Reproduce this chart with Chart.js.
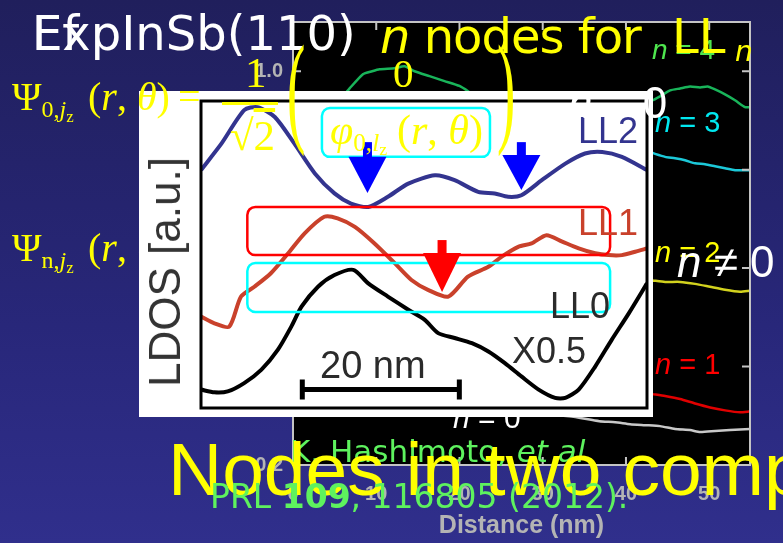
<!DOCTYPE html>
<html>
<head>
<meta charset="utf-8">
<script src="https://cdn.jsdelivr.net/npm/chart.js@4.4.1/dist/chart.umd.min.js"></script>
<style>
  html, body { margin: 0; padding: 0; }
  #slide { position: relative; width: 783px; height: 543px; overflow: hidden;
           background: linear-gradient(180deg, #201f5c 0%, #28277a 60%, #302f8c 100%); }
  #bg { position: absolute; left: 0; top: 0; z-index: 1; }
  #panel { position: absolute; left: 139px; top: 91px; z-index: 3; background: #fff; }
  .t { position: absolute; white-space: nowrap; line-height: 1; }
  .sans { font-family: "Liberation Sans", Arial, sans-serif; }
  .comic { font-family: "Comic Sans MS", "DejaVu Sans", sans-serif; }
  .serif { font-family: "Liberation Serif", "DejaVu Serif", serif; }
  .sub { font-size: 0.6em; position: relative; top: 0.3em; }
  .sub2 { font-size: 0.7em; position: relative; top: 0.25em; }
</style>
</head>
<body>
<div id="slide">
  <canvas id="bg" width="783" height="543"></canvas>
  <canvas id="panel" width="514" height="326"></canvas>
</div>
<script>
// inset: LDOS line profiles, distance (nm) vs LDOS (a.u.)
const ll2Dist = [0, 2.6, 5.5, 7.2, 9.4, 11.9, 14.5, 17.0, 19.1, 21.3, 23.8, 26.4, 29.8, 32.3, 35.3, 37.4, 39.1, 40.8, 43.4, 46.4, 48.9, 51.1, 53.6, 56.8];
const ll2Ldos = [77.5, 86.1, 97.0, 98.0, 94.8, 86.1, 76.4, 69.9, 66.6, 65.5, 68.8, 73.1, 75.8, 74.2, 70.4, 69.9, 68.8, 69.3, 74.2, 79.6, 82.9, 83.4, 81.8, 77.5];
const ll1Dist = [0, 1.7, 3.6, 5.1, 6.8, 8.9, 11.1, 13.2, 15.7, 17.4, 19.6, 22.1, 24.7, 26.8, 28.9, 31.5, 34.0, 36.6, 38.3, 40.4, 42.1, 44.0, 46.0, 48.1, 50.2, 51.9, 53.6, 55.3, 56.8];
const ll1Ldos = [29.8, 27.6, 26.5, 36.3, 39.5, 43.9, 50.4, 56.9, 62.3, 61.8, 59.0, 53.6, 47.1, 41.7, 38.5, 36.3, 42.8, 46.0, 49.3, 52.5, 53.6, 56.3, 54.2, 52.0, 50.4, 49.8, 49.8, 50.9, 52.0];
const ll0Dist = [0, 1.7, 3.4, 5.5, 7.7, 9.8, 11.5, 12.8, 14.9, 17.0, 19.4, 21.3, 23.8, 26.4, 28.5, 30.2, 32.3, 34.5, 36.6, 38.7, 40.8, 43.0, 45.1, 46.4, 48.1, 50.2, 52.3, 54.5, 56.8];
const ll0Ldos = [6.0, 5.1, 5.4, 8.1, 12.5, 19.0, 26.5, 33.0, 39.5, 43.3, 45.0, 40.6, 36.3, 32.0, 28.7, 24.4, 22.8, 21.1, 18.4, 14.6, 10.3, 6.0, 3.3, 3.3, 6.0, 13.5, 22.2, 30.9, 40.6];

// background panel: offset spectra for n = 4 .. 0
const n4Dist = [0, 3.2, 5.6, 6.8, 8.4, 9.5, 10.4, 12.2, 13.4, 14.6, 16.4, 18.2, 20.0, 21.8, 23.0, 27.2, 32.0, 36.8, 40.5, 43.2, 44.1, 45.3, 46.5, 47.7, 48.9, 49.8, 50.7, 51.9, 53.1, 54.3, 54.9];
const n4Val  = [0.862, 0.902, 0.941, 0.965, 0.994, 1.000, 1.004, 1.006, 1.010, 1.000, 0.990, 0.980, 0.970, 0.951, 0.941, 0.921, 0.911, 0.921, 0.931, 0.941, 0.949, 0.961, 0.965, 0.969, 0.967, 0.969, 0.963, 0.953, 0.941, 0.927, 0.927];
const n3Dist = [43.2, 43.5, 44.7, 45.9, 47.1, 48.3, 49.5, 50.7, 51.9, 53.1, 54.9];
const n3Val  = [0.834, 0.832, 0.826, 0.823, 0.819, 0.813, 0.811, 0.807, 0.803, 0.799, 0.799];
const n2Dist = [43.2, 44.7, 46.5, 48.3, 50.1, 51.9, 53.7, 54.9];
const n2Val  = [0.575, 0.572, 0.572, 0.568, 0.562, 0.556, 0.552, 0.554];
const n1Dist = [43.2, 44.7, 46.5, 48.3, 50.1, 51.9, 53.7, 54.9];
const n1Val  = [0.344, 0.340, 0.334, 0.325, 0.317, 0.311, 0.307, 0.309];
const n0Dist = [0, 12.8, 24.8, 33.2, 36.8, 38.7, 40.5, 42.3, 44.1, 45.9, 47.7, 48.9, 50.7, 52.5, 54.9];
const n0Val  = [0.328, 0.319, 0.309, 0.299, 0.289, 0.287, 0.283, 0.281, 0.279, 0.273, 0.271, 0.267, 0.269, 0.271, 0.273];

const bgXTicks = [0, 10, 20, 30, 40, 50];
const bgYTicks = [0.2, 0.4, 0.6, 0.8, 1.0];

// annotations in the inset (data units)
const boxes = [
  { x0: 5.9, x1: 52.1, y0: 49.8, y1: 65.5, color: '#ff0000' },
  { x0: 5.9, x1: 52.1, y0: 31.3, y1: 47.2, color: '#00ffff' },
  { x0: 15.4, x1: 36.8, y0: 81.8, y1: 97.7, color: '#00ffff' }
];
const arrows = [
  { x: 21.2, top: 86.6, head: 81.8, tip: 70.0, color: '#0000ff' },
  { x: 40.8, top: 86.6, head: 82.4, tip: 71.0, color: '#0000ff' },
  { x: 30.7, top: 54.7, head: 50.5, tip: 37.8, color: '#ff0000' }
];
const scaleBarStart = 12.9, scaleBarLength = 20, scaleBarLevel = 6.0;

function pts(xs, ys) { return xs.map((v, i) => ({ x: v, y: ys[i] })); }

const blackPanel = {
  id: 'blackPanel',
  beforeDatasetsDraw(chart) {
    const { ctx, chartArea: a } = chart;
    ctx.save();
    ctx.fillStyle = '#000';
    ctx.fillRect(a.left, a.top, a.width, a.height);
    ctx.restore();
  },
  afterDatasetsDraw(chart) {
    const { ctx, chartArea: a, scales: { x, y } } = chart;
    ctx.save();
    ctx.strokeStyle = '#c4c4c4';
    ctx.lineWidth = 2;
    ctx.strokeRect(a.left, a.top, a.width, a.height);
    ctx.beginPath();
    x.ticks.forEach(t => {
      const p = x.getPixelForValue(t.value);
      ctx.moveTo(p, a.top); ctx.lineTo(p, a.top + 8);
      ctx.moveTo(p, a.bottom); ctx.lineTo(p, a.bottom - 8);
    });
    y.ticks.forEach(t => {
      const p = y.getPixelForValue(t.value);
      ctx.moveTo(a.left, p); ctx.lineTo(a.left + 8, p);
      ctx.moveTo(a.right, p); ctx.lineTo(a.right - 8, p);
    });
    ctx.stroke();
    ctx.restore();
  }
};

const bgFont = { family: 'Liberation Sans', size: 20, weight: 'bold' };
new Chart(document.getElementById('bg'), {
  type: 'line',
  data: {
    datasets: [
      { label: 'n = 4', data: pts(n4Dist, n4Val), borderColor: '#19b45a' },
      { label: 'n = 3', data: pts(n3Dist, n3Val), borderColor: '#1cc8d8' },
      { label: 'n = 2', data: pts(n2Dist, n2Val), borderColor: '#d2d21e' },
      { label: 'n = 1', data: pts(n1Dist, n1Val), borderColor: '#e00000' },
      { label: 'n = 0', data: pts(n0Dist, n0Val), borderColor: '#c8c8c8' }
    ].map(d => Object.assign(d, { borderWidth: 2.5, pointRadius: 0, tension: 0.2, fill: false }))
  },
  options: {
    responsive: false, animation: false, events: [],
    layout: { padding: { left: 0, right: 33, top: 10, bottom: 0 } },
    plugins: { legend: { display: false }, tooltip: { enabled: false } },
    scales: {
      x: {
        type: 'linear', min: 0, max: 54.9,
        afterFit: s => { s.height = 78; },
        afterBuildTicks: s => { s.ticks = bgXTicks.map(v => ({ value: v })); },
        grid: { display: false, drawTicks: false }, border: { display: false },
        ticks: { padding: 17, color: '#b4b4b4', font: bgFont, maxRotation: 0, autoSkip: false },
        title: { display: true, text: 'Distance (nm)', color: '#b4b4b4',
                 font: { family: 'Liberation Sans', size: 25, weight: 'bold' }, padding: { top: 0, bottom: 2 } }
      },
      y: {
        type: 'linear', min: 0.2, max: 1.1,
        afterFit: s => { s.width = 293; },
        afterBuildTicks: s => { s.ticks = bgYTicks.map(v => ({ value: v })); },
        grid: { display: false, drawTicks: false }, border: { display: false },
        ticks: { padding: 10, color: '#b4b4b4', font: bgFont, callback: v => v.toFixed(1) }
      }
    }
  },
  plugins: [blackPanel]
});

const insetMarks = {
  id: 'insetMarks',
  afterDatasetsDraw(chart) {
    const { ctx, chartArea: a, scales: { x, y } } = chart;
    ctx.save();
    ctx.lineWidth = 2.5;
    boxes.forEach(b => {
      const l = x.getPixelForValue(b.x0), r = x.getPixelForValue(b.x1);
      const t = y.getPixelForValue(b.y1), bt = y.getPixelForValue(b.y0);
      ctx.strokeStyle = b.color;
      ctx.beginPath();
      ctx.roundRect(l, t, r - l, bt - t, 8);
      ctx.stroke();
    });
    arrows.forEach(ar => {
      const p = x.getPixelForValue(ar.x);
      const yt = y.getPixelForValue(ar.top), yh = y.getPixelForValue(ar.head), yp = y.getPixelForValue(ar.tip);
      ctx.fillStyle = ar.color;
      ctx.fillRect(p - 4.5, yt, 9, yh - yt + 1);
      ctx.beginPath();
      ctx.moveTo(p - 19, yh); ctx.lineTo(p + 19, yh); ctx.lineTo(p, yp);
      ctx.closePath();
      ctx.fill();
    });
    // scale bar
    const s0 = x.getPixelForValue(scaleBarStart), s1 = x.getPixelForValue(scaleBarStart + scaleBarLength);
    const sy = y.getPixelForValue(scaleBarLevel);
    ctx.strokeStyle = '#000';
    ctx.lineWidth = 5;
    ctx.beginPath();
    ctx.moveTo(s0, sy); ctx.lineTo(s1, sy);
    ctx.moveTo(s0, sy - 10); ctx.lineTo(s0, sy + 10);
    ctx.moveTo(s1, sy - 10); ctx.lineTo(s1, sy + 10);
    ctx.stroke();
    // frame
    ctx.lineWidth = 3;
    ctx.strokeRect(a.left, a.top, a.width, a.height);
    ctx.restore();
  }
};

new Chart(document.getElementById('panel'), {
  type: 'line',
  data: {
    datasets: [
      { label: 'LL2', data: pts(ll2Dist, ll2Ldos), borderColor: '#33348f' },
      { label: 'LL1', data: pts(ll1Dist, ll1Ldos), borderColor: '#c9412b' },
      { label: 'LL0', data: pts(ll0Dist, ll0Ldos), borderColor: '#000000' }
    ].map(d => Object.assign(d, { borderWidth: 4, pointRadius: 0, tension: 0.25, fill: false }))
  },
  options: {
    responsive: false, animation: false, events: [],
    layout: { padding: { left: 62, right: 6, top: 10, bottom: 9 } },
    plugins: { legend: { display: false }, tooltip: { enabled: false } },
    scales: {
      x: { type: 'linear', min: 0, max: 56.8, display: false },
      y: { type: 'linear', min: 0, max: 100, display: false }
    }
  },
  plugins: [insetMarks]
});

// text layers
const slide = document.getElementById('slide');
function label(html, x, base, size, color, cls, z, extra) {
  const d = document.createElement('div');
  d.className = 't ' + cls;
  d.innerHTML = html;
  d.style.left = x + 'px';
  d.style.top = (base - 0.845 * size) + 'px';
  d.style.fontSize = size + 'px';
  d.style.color = color;
  d.style.zIndex = z;
  if (extra) Object.assign(d.style, extra);
  slide.appendChild(d);
  return d;
}
const Y = '#ffff00';

// behind the inset
label('Ψ<span class="sub">n,<i>j</i><span class="sub2">z</span></span>', 12, 262, 40, Y, 'serif', 2);
label('(<i>r</i>, <i>θ</i>', 88, 262, 40, Y, 'serif', 2);
label('<i>n</i> = 0', 453, 428, 30, '#fff', 'sans', 2);
label('<i>n</i> = 3', 655, 133, 29, '#00e8f0', 'sans', 2);
label('<i>n</i> = 1', 655, 375, 29, '#ff0000', 'sans', 2);

// inset labels
label('LL2', 578, 143, 36, '#33348f', 'sans', 4);
label('LL1', 578, 235, 36, '#c9412b', 'sans', 4);
label('LL0', 550, 318, 36, '#2b2b2b', 'sans', 4);
label('X0.5', 512, 363, 36, '#2b2b2b', 'sans', 4);
label('20 nm', 320, 378, 38, '#2b2b2b', 'sans', 4);
const ld = label('LDOS [a.u.]', 165, 272, 44, '#333', 'sans', 4);
ld.style.top = '272px';
ld.style.transform = 'translate(-50%,-50%) rotate(-90deg)';

// slide overlays
label('ExpInSb(110)', 32, 50, 48, '#fff', 'comic', 5);
label('Ef', 32, 50, 48, '#fff', 'comic', 5);
label('<i>n</i> = 4', 652, 60, 28, '#4ee64e', 'sans', 5);
label('<i>n</i> nodes for', 380, 53, 48, Y, 'comic', 6, { letterSpacing: '-1px' });
label('LL', 672, 53, 48, Y, 'comic', 6);
label('<i>n</i>', 735, 62, 28, Y, 'comic', 6);

label('Ψ<span class="sub">0,<i>j</i><span class="sub2">z</span></span>', 12, 111, 40, Y, 'serif', 6);
label('(<i>r</i>, <i>θ</i>)', 88, 111, 40, Y, 'serif', 6);
label('=', 178, 111, 40, Y, 'serif', 6);
label('1', 245, 87, 43, Y, 'serif', 6);
const bar = document.createElement('div');
Object.assign(bar.style, { position: 'absolute', left: '222px', top: '102px', width: '56px', height: '3px', background: Y, zIndex: 6 });
slide.appendChild(bar);
label('√<span style="text-decoration:overline">2</span>', 230, 150, 43, Y, 'serif', 6);
label('(', 287, 131, 122, Y, 'serif', 6, { transform: 'scaleX(0.45)', transformOrigin: 'left' });
label(')', 497, 131, 122, Y, 'serif', 6, { transform: 'scaleX(0.45)', transformOrigin: 'left' });
label('0', 393, 88, 41, Y, 'serif', 6);
label('<i>φ</i><span class="sub">0,<i>l</i><span class="sub2">z</span></span>', 330, 144, 42, Y, 'serif', 6);
label('(<i>r</i>, <i>θ</i>)', 397, 144, 42, Y, 'serif', 6);

label('<i>n</i> = 0', 568, 118, 44, '#fff', 'sans', 6);
label('<i>n</i> = 2', 655, 263, 29, Y, 'sans', 6);
label('<i>n</i> ≠ 0', 677, 277, 44, '#fff', 'sans', 7);

label('K. Hashimoto, <i>et al.</i>', 290, 462, 31, '#5ef25e', 'comic', 6);
label('Nodes in two comp', 168, 495, 75, Y, 'sans', 7);
label('PRL <b>109</b>, 116805 (2012).', 210, 508, 33, '#5ef25e', 'comic', 8);
</script>
</body>
</html>
